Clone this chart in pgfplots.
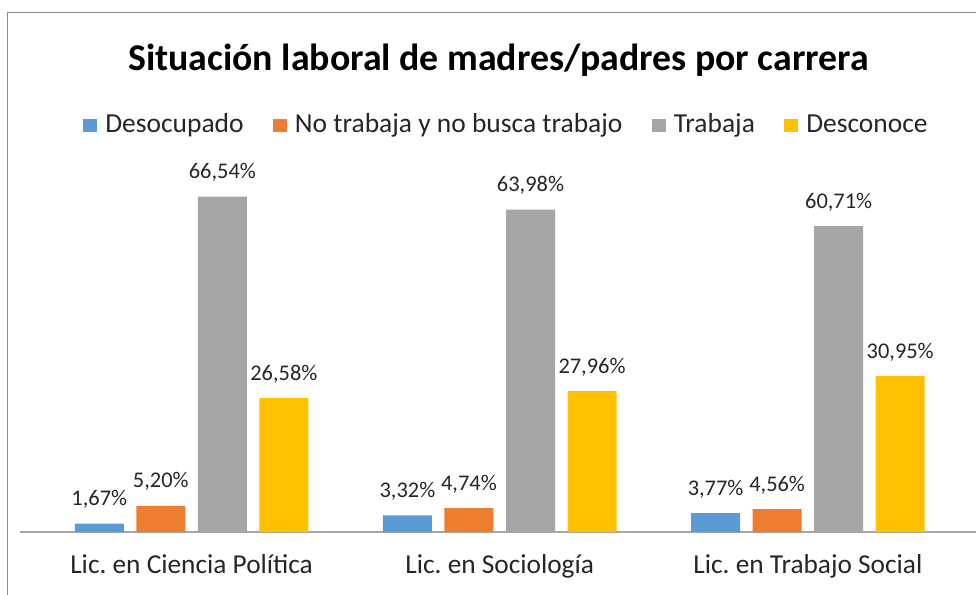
\documentclass[border=0pt]{standalone}
\usepackage{pgfplots}
\pgfplotsset{compat=1.18}
\usepackage{fontspec}
\setmainfont{Carlito}
\frenchspacing
\definecolor{cblue}{HTML}{5B9BD5}
\definecolor{corange}{HTML}{ED7D31}
\definecolor{cgray}{HTML}{A5A5A5}
\definecolor{cyellow}{HTML}{FFC000}
\definecolor{frame}{HTML}{8C8C8C}
\definecolor{axisgray}{HTML}{A6A6A6}
\definecolor{txt}{HTML}{262626}
\begin{document}
\begin{tikzpicture}
\useasboundingbox (0pt,0pt) rectangle (732pt,445.5pt);
\clip (0pt,0pt) rectangle (732pt,445.5pt);
\draw[frame, line width=1.3pt] (5.6pt,-20pt) -- (5.6pt,436.1pt) -- (760pt,436.1pt);
\node[anchor=base, font=\fontsize{28.35pt}{34pt}\selectfont\bfseries, text=black, inner sep=0pt] at (373.9pt,392.25pt) {Situación laboral de madres/padres por carrera};
\begin{axis}[
  at={(15pt,46.5pt)}, anchor=south west,
  scale only axis, width=719.6pt, height=302.4pt,
  xmin=-0.5568, xmax=2.5568, ymin=0, ymax=80,
  ybar=9.4pt, bar width=36.75pt,
  axis x line*=bottom, axis y line=none,
  x axis line style={axisgray, line width=1.1pt},
  xtick={0,1,2}, xticklabels={Lic. en Ciencia Política, Lic. en Sociología, Lic. en Trabajo Social},
  major tick length=0pt,
  xticklabel style={anchor=base, yshift=-30.75pt, font=\fontsize{20.5pt}{24pt}\selectfont, text=txt},
  nodes near coords={\pgfmathprintnumber[fixed,fixed zerofill,precision=2,use comma,assume math mode=true]{\pgfplotspointmeta}\%},
  nodes near coords style={anchor=base, yshift=13.5pt, font=\fontsize{16.8pt}{20pt}\selectfont, text=txt, inner sep=0pt},
  legend columns=-1,
  legend style={at={(axis description cs:0.506,1.0119)}, anchor=center, draw=none, fill=none,
    font=\fontsize{20.6pt}{24pt}\selectfont, text=txt,
    nodes={inner sep=0pt, anchor=base},
    /tikz/every odd column/.append style={column sep=6pt},
    /tikz/every even column/.append style={column sep=22pt}},
  legend image code/.code={\fill[#1] (0pt,0.75pt) rectangle (10.5pt,10pt);},
  clip=false,
]
\addplot[fill=cblue, draw=none] coordinates {(0,1.67) (1,3.32) (2,3.77)};
\addplot[fill=corange, draw=none] coordinates {(0,5.20) (1,4.74) (2,4.56)};
\addplot[fill=cgray, draw=none] coordinates {(0,66.54) (1,63.98) (2,60.71)};
\addplot[fill=cyellow, draw=none] coordinates {(0,26.58) (1,27.96) (2,30.95)};
\legend{Desocupado, No trabaja y no busca trabajo, Trabaja, Desconoce}
\end{axis}
\end{tikzpicture}
\end{document}
